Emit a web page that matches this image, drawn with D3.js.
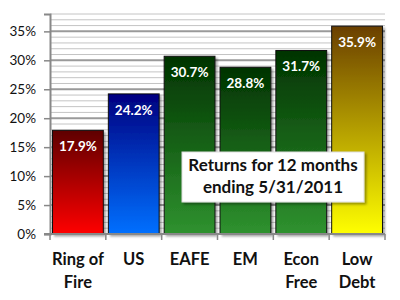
<!DOCTYPE html>
<html>
<head>
<meta charset="utf-8">
<script src="https://cdn.jsdelivr.net/npm/d3@7"></script>
<style>
  body { margin: 0; background: #fff; }
  svg { display: block; font-family: Lato, "Open Sans", sans-serif; }
</style>
</head>
<body>
<svg width="400" height="300"></svg>
<script>
// data
const categories = ["Ring of Fire", "US", "EAFE", "EM", "Econ Free", "Low Debt"];
const labelLines = [["Ring of", "Fire"], ["US"], ["EAFE"], ["EM"], ["Econ", "Free"], ["Low", "Debt"]];
const returns = [17.9, 24.2, 30.7, 28.8, 31.7, 35.9];
const yTicks = [0, 5, 10, 15, 20, 25, 30, 35];
const gradTop = ["#5e0000", "#000080", "#003300", "#003300", "#003300", "#6a3f00"];
const gradBottom = ["#ff0000", "#0070ff", "#2f922f", "#2f922f", "#2f922f", "#ffff00"];
const note = ["Returns for 12 months", "ending 5/31/2011"];

const svg = d3.select("svg");
const plotLeft = 50, plotRight = 385, plotTop = 14, plotBottom = 234;

const x = d3.scaleBand()
    .domain(categories)
    .range([plotLeft, plotRight])
    .paddingInner(0.09)
    .paddingOuter(0.045);

const y = d3.scaleLinear()
    .domain([0, 38])
    .range([plotBottom, plotTop]);

const defs = svg.append("defs");
categories.forEach((c, i) => {
    const g = defs.append("linearGradient")
        .attr("id", "grad" + i)
        .attr("x1", 0).attr("y1", 0).attr("x2", 0).attr("y2", 1);
    g.append("stop").attr("offset", "0%").attr("stop-color", gradTop[i]);
    g.append("stop").attr("offset", "100%").attr("stop-color", gradBottom[i]);
});
const shadow = defs.append("filter").attr("id", "shadow")
    .attr("x", "-20%").attr("y", "-20%").attr("width", "150%").attr("height", "150%");
shadow.append("feDropShadow")
    .attr("dx", 2).attr("dy", 2).attr("stdDeviation", 1.2)
    .attr("flood-color", "#000").attr("flood-opacity", 0.35);

// minor gridlines every 1%
svg.append("g")
    .selectAll("line")
    .data(d3.range(1, 39).filter(v => v % 5 !== 0))
    .enter().append("line")
    .attr("x1", plotLeft).attr("x2", plotRight)
    .attr("y1", d => y(d)).attr("y2", d => y(d))
    .attr("stroke", "#c4c4c4")
    .attr("stroke-width", 1);

// major gridlines
svg.append("g")
    .selectAll("line")
    .data(yTicks.slice(1))
    .enter().append("line")
    .attr("x1", plotLeft).attr("x2", plotRight)
    .attr("y1", d => y(d)).attr("y2", d => y(d))
    .attr("stroke", "#9a9a9a")
    .attr("stroke-width", 2);

// bars
svg.append("g")
    .selectAll("rect")
    .data(returns)
    .enter().append("rect")
    .attr("x", (d, i) => x(categories[i]))
    .attr("y", d => y(d))
    .attr("width", x.bandwidth())
    .attr("height", d => y(0) - y(d))
    .attr("fill", (d, i) => "url(#grad" + i + ")")
    .attr("stroke", "#111")
    .attr("stroke-width", 1)
    .attr("filter", "url(#shadow)");

// value labels
svg.append("g")
    .selectAll("text")
    .data(returns)
    .enter().append("text")
    .attr("x", (d, i) => x(categories[i]) + x.bandwidth() / 2)
    .attr("y", d => y(d) + 21)
    .attr("text-anchor", "middle")
    .attr("font-size", 13.5)
    .attr("font-weight", "bold")
    .attr("fill", "#fff")
    .text(d => d.toFixed(1) + "%");

// y axis
const yAxis = svg.append("g")
    .attr("transform", `translate(${plotLeft},0)`)
    .call(d3.axisLeft(y).tickValues(yTicks).tickFormat(d => d + "%").tickSize(6).tickPadding(8));
yAxis.select(".domain").attr("stroke", "#888").attr("stroke-width", 2);
yAxis.selectAll(".tick line").attr("stroke", "#888").attr("stroke-width", 1.5);
yAxis.selectAll(".tick text")
    .attr("font-size", 13.5)
    .attr("fill", "#111")
    .attr("font-family", "Lato, sans-serif");

// x axis line and ticks at category boundaries
svg.append("line")
    .attr("x1", plotLeft - 6).attr("x2", plotRight)
    .attr("y1", y(0)).attr("y2", y(0))
    .attr("stroke", "#888").attr("stroke-width", 2);
svg.append("g")
    .selectAll("line")
    .data(d3.range(categories.length + 1))
    .enter().append("line")
    .attr("x1", i => plotLeft + i * x.step())
    .attr("x2", i => plotLeft + i * x.step())
    .attr("y1", y(0)).attr("y2", y(0) + 6)
    .attr("stroke", "#888").attr("stroke-width", 1.5);

// category labels
const cat = svg.append("g")
    .selectAll("text")
    .data(labelLines)
    .enter().append("text")
    .attr("x", (d, i) => x(categories[i]) + x.bandwidth() / 2)
    .attr("y", 265)
    .attr("text-anchor", "middle")
    .attr("font-size", 16.5)
    .attr("font-weight", "bold")
    .attr("fill", "#111");
cat.selectAll("tspan")
    .data(d => d)
    .enter().append("tspan")
    .attr("x", function() { return this.parentNode.getAttribute("x"); })
    .attr("dy", (d, i) => i === 0 ? 0 : 23)
    .text(d => d);

// note box
const box = svg.append("g");
box.append("rect")
    .attr("x", 182).attr("y", 152)
    .attr("width", 182).attr("height", 50)
    .attr("fill", "#fff")
    .attr("stroke", "#ddd")
    .attr("filter", "url(#shadow)");
box.selectAll("text")
    .data(note)
    .enter().append("text")
    .attr("x", 273)
    .attr("y", (d, i) => 171 + i * 22)
    .attr("text-anchor", "middle")
    .attr("font-size", 17)
    .attr("font-weight", "bold")
    .attr("fill", "#111")
    .text(d => d);
</script>
</body>
</html>
